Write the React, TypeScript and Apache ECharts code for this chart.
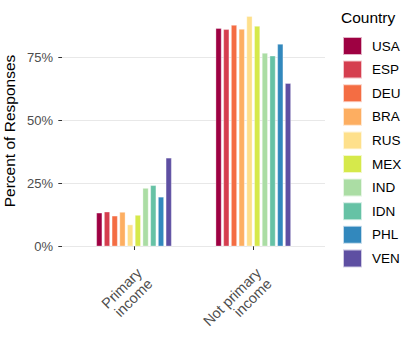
import React, { useEffect, useRef } from "react";
import * as echarts from "echarts";

const categories = ["Primary\nincome", "Not primary\nincome"];
const countries = ["USA", "ESP", "DEU", "BRA", "RUS", "MEX", "IND", "IDN", "PHL", "VEN"];
const colors = ["#9E0142", "#D53E4F", "#F46D43", "#FDAE61", "#FEE08B", "#D6E94B", "#ABDDA4", "#66C2A5", "#3288BD", "#5E4FA2"];
const primaryIncome = [13.3, 13.7, 12.1, 13.6, 8.6, 12.4, 23.1, 24.2, 19.6, 35.1];
const notPrimaryIncome = [86.5, 86.1, 87.8, 86.2, 91.3, 87.4, 76.7, 75.6, 80.3, 64.7];
const yTicks = [0, 25, 50, 75];
const yMax = 95.75;

const FONT = "'Liberation Sans', Arial, Helvetica, sans-serif";

export default function App() {
  const ref = useRef<HTMLDivElement>(null);
  useEffect(() => {
    if (!ref.current) return;
    const chart = echarts.init(ref.current, undefined, { renderer: "svg" });
    const top = 5;
    const bottom = 99.7;
    const option: any = {
      animation: false,
      backgroundColor: "#ffffff",
      textStyle: { fontFamily: FONT },
      grid: [
        { left: 62, right: 90, top, bottom, containLabel: false },
        { left: 74.35, right: 102.05, top, bottom, containLabel: false },
      ],
      xAxis: [
        { type: "value", gridIndex: 0, show: false, min: 0, max: 1 },
        {
          type: "category",
          gridIndex: 1,
          data: categories,
          position: "bottom",
          offset: 12,
          axisLine: { show: false },
          axisTick: { show: true, alignWithLabel: true, length: 3.7, lineStyle: { color: "#333333", width: 1 } },
          axisLabel: {
            rotate: 45,
            align: "right",
            verticalAlign: "top",
            margin: 7,
            fontSize: 14.5,
            lineHeight: 15,
            color: "#4D4D4D",
            fontFamily: FONT,
          },
          splitLine: { show: false },
        },
      ],
      yAxis: [
        {
          type: "value",
          gridIndex: 0,
          min: 0,
          max: yMax,
          interval: 25,
          axisLine: { show: false },
          axisTick: { show: true, customValues: yTicks, length: 3.7, lineStyle: { color: "#333333", width: 1 } },
          axisLabel: {
            customValues: yTicks,
            formatter: (v: number) => (yTicks.indexOf(v) >= 0 ? v + "%" : ""),
            fontSize: 13,
            color: "#4D4D4D",
            margin: 9,
            fontFamily: FONT,
          },
          splitLine: { show: true, lineStyle: { color: "#E8E8E8", width: 1 } },
        },
        { type: "value", gridIndex: 1, min: 0, max: yMax, show: false },
      ],
      legend: {
        data: countries,
        orient: "vertical",
        left: 342,
        top: 36,
        padding: 0,
        itemWidth: 19,
        itemHeight: 18,
        itemGap: 3.6,
        icon: "rect",
        textStyle: { fontSize: 13.5, color: "#000000", fontFamily: FONT, padding: [0, 0, 0, 5] },
      },
      graphic: [
        {
          type: "text",
          left: 341,
          top: 9,
          style: { text: "Country", fontSize: 15.5, fill: "#000000", fontFamily: FONT },
        },
        {
          type: "text",
          x: 9.5,
          y: 131,
          rotation: Math.PI / 2,
          style: {
            text: "Percent of Responses",
            fontSize: 15.5,
            fill: "#000000",
            fontFamily: FONT,
            align: "center",
            verticalAlign: "middle",
          },
        },
      ],
      series: countries.map((c, i) => ({
        name: c,
        type: "bar",
        xAxisIndex: 1,
        yAxisIndex: 1,
        data: [primaryIncome[i], notPrimaryIncome[i]],
        barWidth: 5.8,
        barGap: "33%",
        itemStyle: { color: colors[i], borderColor: "rgba(255,255,255,0.7)", borderWidth: 0.5 },
      })),
    };
    chart.setOption(option);
    return () => chart.dispose();
  }, []);
  return (
    <div
      ref={ref}
      style={{ position: "absolute", left: 0, top: 0, width: 415, height: 346, background: "#fff" }}
    />
  );
}
